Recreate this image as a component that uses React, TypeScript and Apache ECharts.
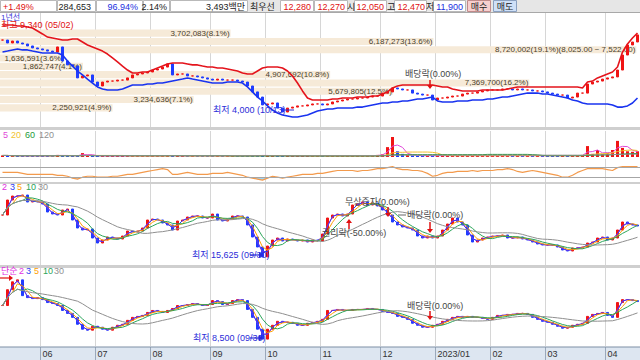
import React, { useEffect, useRef } from "react";
import * as echarts from "echarts";

// ---------- data ----------
const months = ["05", "06", "07", "08", "09", "10", "11", "12", "2023/01", "02", "03", "04"];
const monthCounts = [8, 11, 11, 12, 11, 11, 12, 11, 11, 11, 12, 7];

const p1Close = [
  8370, 8190, 8310, 8190, 8130, 8010, 7890, 7830, 7770, 7700,
  7640, 7950, 7100, 6860, 6790, 6070, 6190, 6250, 5820, 5580,
  5820, 5880, 5880, 5940, 5940, 6070, 6250, 6310, 6370, 6430,
  6550, 6610, 6730, 6920, 6250, 6310, 6310, 6190, 6190, 6130,
  6070, 6000, 5940, 6000, 5940, 5940, 5940, 5880, 5820, 5580,
  5220, 4910, 4430, 4490, 4550, 4240, 4000, 4240, 4300, 4370,
  4370, 4430, 4490, 4490, 4430, 4490, 4610, 4670, 4730, 4790,
  4790, 4850, 4850, 4910, 4970, 4970, 5150, 5220, 5460, 5400,
  5340, 5340, 5150, 5090, 5030, 5030, 4730, 4850, 4850, 4910,
  4970, 4970, 5090, 5150, 5150, 5220, 5280, 5340, 5340, 5340,
  5400, 5400, 5340, 5400, 5340, 5340, 5280, 5280, 5220, 5150,
  5090, 5030, 5030, 4850, 4910, 5150, 5150, 5700, 5820, 5880,
  6000, 6070, 6130, 6550, 7460, 8070, 8250, 8680,
];
const p1Upper = [
  9280, 9280, 9280, 9220, 9220, 9160, 9100, 8920, 8740, 8550,
  8490, 8430, 8370, 8370, 8430, 8430, 8250, 8070, 7950, 7830,
  7700, 7520, 7280, 7040, 6790, 6550, 6370, 6370, 6430, 6430,
  6550, 6670, 6790, 6920, 6980, 6980, 6980, 6920, 6860, 6860,
  6790, 6730, 6730, 6670, 6670, 6610, 6550, 6490, 6370, 6310,
  6310, 6490, 6670, 6730, 6730, 6730, 6670, 6490, 6190, 5760,
  5280, 4850, 4730, 4730, 4730, 4730, 4790, 4790, 4850, 4850,
  4850, 4910, 4910, 4910, 4970, 4970, 5090, 5220, 5460, 5580,
  5640, 5640, 5640, 5640, 5640, 5640, 5640, 5580, 5520, 5520,
  5400, 5340, 5280, 5280, 5280, 5280, 5340, 5340, 5340, 5340,
  5340, 5400, 5460, 5520, 5520, 5520, 5520, 5520, 5520, 5520,
  5520, 5520, 5520, 5520, 5520, 5520, 5460, 5820, 5880, 6070,
  6190, 6310, 6430, 6730, 7640, 8130, 8490, 8800,
];
const p1Lower = [
  7640, 7700, 7770, 7830, 7770, 7770, 7700, 7640, 7580, 7580,
  7580, 7580, 7460, 7100, 6790, 6490, 6250, 6000, 5760, 5520,
  5400, 5340, 5340, 5340, 5400, 5520, 5640, 5640, 5640, 5700,
  5700, 5760, 5760, 5820, 5880, 5940, 6000, 6070, 6000, 5940,
  5880, 5820, 5760, 5760, 5760, 5820, 5820, 5820, 5760, 5520,
  5220, 4910, 4670, 4370, 4120, 3940, 3820, 3760, 3700, 3700,
  3760, 3820, 3940, 4060, 4120, 4180, 4180, 4240, 4240, 4240,
  4240, 4300, 4300, 4370, 4430, 4490, 4550, 4550, 4610, 4610,
  4670, 4670, 4730, 4790, 4790, 4850, 4910, 4670, 4610, 4610,
  4610, 4670, 4670, 4670, 4730, 4730, 4730, 4790, 4790, 4850,
  4910, 4910, 4970, 5030, 5090, 5150, 5150, 5150, 5090, 5090,
  5030, 4970, 4910, 4850, 4730, 4670, 4550, 4490, 4490, 4490,
  4490, 4490, 4430, 4300, 4300, 4370, 4550, 4850,
];

const profileVolume = [3702083, 6187273, 8720002, 1636591, 1862747, 4907692, 7369700, 5679805, 3234636, 2250921];
const profilePct = [8.1, 13.6, 19.1, 3.6, 4.1, 10.8, 16.2, 12.5, 7.1, 4.9];
const pocRange = ["8,025.00", "7,522.00"];

const volume = [
  6, 5, 4, 5, 4, 4, 5, 4, 4, 5,
  4, 8, 5, 4, 5, 6, 15, 6, 5, 4,
  4, 4, 4, 4, 4, 4, 4, 5, 4, 4,
  4, 4, 5, 6, 5, 4, 4, 4, 4, 4,
  4, 4, 4, 4, 4, 4, 4, 4, 4, 5,
  5, 6, 6, 5, 4, 5, 5, 4, 4, 4,
  4, 4, 4, 4, 4, 4, 4, 4, 4, 4,
  4, 4, 4, 4, 5, 8, 10, 38, 77, 22,
  12, 8, 6, 5, 5, 5, 5, 5, 5, 5,
  5, 5, 5, 5, 5, 5, 5, 5, 5, 5,
  5, 5, 5, 5, 5, 5, 5, 5, 5, 5,
  5, 5, 5, 5, 5, 6, 8, 42, 12, 27,
  10, 15, 27, 62, 35, 22, 20, 22,
];

const osc = [
  50, 50, 50, 50, 46, 42, 42, 42, 42, 42,
  42, 38, 38, 34, 26, 22, 30, 34, 34, 30,
  30, 30, 34, 34, 38, 42, 42, 46, 50, 54,
  58, 62, 66, 62, 42, 42, 46, 50, 46, 42,
  42, 42, 46, 46, 46, 50, 46, 42, 38, 30,
  26, 22, 18, 26, 34, 30, 26, 30, 34, 38,
  42, 42, 42, 46, 46, 50, 54, 58, 58, 58,
  58, 54, 58, 58, 62, 66, 66, 70, 74, 66,
  62, 62, 58, 58, 54, 46, 34, 38, 46, 50,
  50, 54, 54, 54, 58, 54, 58, 58, 58, 62,
  62, 66, 62, 54, 50, 54, 58, 54, 50, 46,
  42, 38, 30, 30, 38, 50, 58, 66, 66, 66,
  66, 62, 58, 70, 74, 74, 74, 74,
];

const p2Close = [
  24000, 27000, 27800, 27800, 28000, 26600, 26800, 26600, 26200, 24600,
  24200, 24000, 25000, 25200, 23000, 21400, 21000, 21200, 19400, 18400,
  19000, 19600, 19400, 19200, 19800, 20800, 20600, 20800, 21400, 23000,
  23200, 23000, 22400, 22000, 21000, 22800, 23000, 23600, 23800, 23800,
  23400, 23400, 24200, 23000, 22800, 23200, 23800, 23800, 23600, 22000,
  19600, 17600, 15625, 17800, 19000, 19400, 18800, 19200, 19000, 18800,
  19000, 18600, 19000, 18800, 20200, 23400, 24000, 24200, 23800, 24200,
  26000, 26200, 26600, 26000, 26400, 25800, 25000, 24000, 22600, 22000,
  21600, 21400, 21000, 19800, 19400, 19800, 19400, 19800, 21000, 22200,
  23400, 22600, 22000, 20000, 18600, 19000, 19400, 19600, 19800, 19800,
  20000, 19400, 19400, 19600, 19200, 19000, 18600, 18200, 18000, 18000,
  18000, 17600, 17000, 16800, 17400, 17400, 17600, 18400, 18600, 19400,
  19600, 19000, 19400, 21000, 22600, 22200, 22000, 21800,
];

const p3Close = [
  11900, 13500, 14300, 14500, 12900, 12700, 12600, 12700, 12500, 12200,
  12100, 11900, 11400, 11100, 10700, 10000, 9500, 9400, 9800, 9700,
  9500, 9400, 9700, 9900, 10000, 10400, 10700, 10800, 10900, 11200,
  11400, 11300, 11200, 11400, 11600, 11900, 11900, 12000, 12100, 12000,
  11900, 12000, 12400, 12300, 12000, 12100, 12400, 12500, 12400, 11500,
  10700, 9500, 8500, 9500, 9900, 10300, 10200, 10200, 10100, 9900,
  9900, 10100, 10200, 10300, 10500, 11400, 11400, 11500, 11400, 11400,
  11500, 11500, 11500, 11600, 11500, 11500, 11300, 11200, 11100, 10800,
  10700, 10500, 10100, 9900, 9700, 9700, 9900, 10000, 10300, 10500,
  10700, 10800, 10700, 10800, 10700, 10700, 10600, 10500, 10700, 10900,
  10900, 11000, 11000, 11100, 11100, 11000, 10700, 10500, 10300, 10200,
  10000, 9800, 9600, 9700, 9900, 10000, 10100, 10800, 11000, 11100,
  11200, 10900, 10700, 12200, 12500, 12500, 12400, 12300,
];

const maLabels = ["2", "3", "5", "10", "30"];
const maWindows = [2, 2, 3, 5, 15];
const maColors = ["#e22ee2", "#2f3cf0", "#ff9f00", "#2ca55a", "#8f8f8f"];
const volMaLabels = ["5", "20", "60", "120"];
const volMaWindows = [3, 10, 30, 60];
const volMaColors = ["#e04ad8", "#f2c230", "#1e9a3a", "#8f8f8f"];

const headerCells = [
  { text: "+1.49%", color: "#e01010", x: 3, align: "left" },
  { text: "284,653", color: "#222", x: 91, align: "right" },
  { text: "96.94%", color: "#1a30e0", x: 138, align: "right" },
  { text: "2.14%", color: "#222", x: 167, align: "right" },
  { text: "3,493백만", color: "#222", x: 245, align: "right" },
  { text: "최우선", color: "#222", x: 250, align: "left" },
  { text: "12,280", color: "#e01010", x: 311, align: "right" },
  { text: "12,270", color: "#e01010", x: 345, align: "right" },
  { text: "시", color: "#222", x: 347, align: "left" },
  { text: "12,050", color: "#e01010", x: 384, align: "right" },
  { text: "고", color: "#222", x: 387, align: "left" },
  { text: "12,470", color: "#e01010", x: 425, align: "right" },
  { text: "저", color: "#222", x: 426, align: "left" },
  { text: "11,900", color: "#1a30e0", x: 463, align: "right" },
];

// ---------- helpers ----------
const FONT = "Liberation Sans, Noto Sans CJK KR, sans-serif";
const UP = "#f01414";
const DOWN = "#1f3cff";

function ohlc(c: number[]) {
  return c.map((v, i) => {
    const o = i === 0 ? v : c[i - 1];
    return [o, v, Math.min(o, v), Math.max(o, v)];
  });
}
function ma(arr: number[], n: number) {
  return arr.map((_, i) => {
    const s = Math.max(0, i - n + 1);
    let sum = 0;
    for (let k = s; k <= i; k++) sum += arr[k];
    return Math.round(sum / (i - s + 1));
  });
}

export default function App() {
  const ref = useRef<HTMLDivElement>(null);
  useEffect(() => {
    document.body.style.margin = "0";
    const chart = echarts.init(ref.current!, null, { renderer: "svg" });

    const cats: string[] = [];
    const monthStart = new Set<number>();
    const monthLabel: Record<number, string> = {};
    months.forEach((m, mi) => {
      if (mi > 0) monthStart.add(cats.length);
      monthLabel[cats.length] = m;
      for (let k = 0; k < monthCounts[mi]; k++) cats.push(`${m}-${k + 1}`);
    });

    const catAxis = (gridIndex: number, extra: any = {}) => ({
      type: "category",
      gridIndex,
      data: cats,
      boundaryGap: true,
      axisLine: { show: false },
      axisTick: { show: false },
      axisLabel: { show: false },
      splitLine: {
        show: true,
        interval: (i: number) => monthStart.has(i),
        lineStyle: { color: "#d6d6d6", width: 1 },
      },
      ...extra,
    });
    const valAxis = (gridIndex: number, min: number, max: number, extra: any = {}) => ({
      type: "value",
      gridIndex,
      min,
      max,
      axisLine: { show: false },
      axisTick: { show: false },
      axisLabel: { show: false },
      splitLine: { show: false },
      ...extra,
    });

    const candle = (data: number[], idx: number) => ({
      type: "candlestick",
      xAxisIndex: idx,
      yAxisIndex: idx,
      data: ohlc(data),
      barWidth: 2,
      itemStyle: { color: UP, color0: DOWN, borderColor: UP, borderColor0: DOWN, borderWidth: 1 },
      z: 3,
    });
    const lineS = (data: number[], idx: number, color: string, width = 1, z = 4) => ({
      type: "line",
      xAxisIndex: idx,
      yAxisIndex: idx,
      data,
      showSymbol: false,
      symbol: "none",
      lineStyle: { color, width },
      z,
    });
    const maSeries = (data: number[], idx: number) =>
      maWindows.map((w, k) => lineS(ma(data, w), idx, maColors[k], 1, 4));

    const volDir = p1Close.map((v, i) => (i === 0 || v >= p1Close[i - 1] ? UP : DOWN));
    const oscBase = osc.map((v) => Math.min(v, 30));
    const oscGap = oscBase.map((v) => 30 - v);

    // ---------- graphic overlays ----------
    const txt = (x: number, y: number, text: string, fill: string, size = 9, align = "left") => ({
      type: "text",
      x,
      y,
      z: 100,
      style: { text, fill, font: `${size}px ${FONT}`, align, verticalAlign: "middle" },
    });
    const arrowV = (x: number, y1: number, y2: number, color: string) => {
      const dir = y2 > y1 ? 1 : -1;
      return [
        { type: "line", z: 100, shape: { x1: x, y1, x2: x, y2: y2 - dir * 3 }, style: { stroke: color, lineWidth: 1.5 } },
        {
          type: "polygon",
          z: 100,
          shape: { points: [[x - 3, y2 - dir * 4], [x + 3, y2 - dir * 4], [x, y2]] },
          style: { fill: color },
        },
      ];
    };
    const arrowH = (x1: number, x2: number, y: number, color: string) => [
      { type: "line", z: 100, shape: { x1, y1: y, x2: x2 - 3, y2: y }, style: { stroke: color, lineWidth: 1.2 } },
      { type: "polygon", z: 100, shape: { points: [[x2 - 4, y - 3], [x2 - 4, y + 3], [x2, y]] }, style: { fill: color } },
    ];
    const divider = (y: number, h: number) => ({
      type: "rect",
      z: 50,
      shape: { x: 0, y, width: 640, height: h },
      style: { fill: "#cfcfcf" },
    });

    const headerG: any[] = [
      { type: "rect", z: 90, shape: { x: 0, y: 0, width: 640, height: 12 }, style: { fill: "#e6e6e6" } },
      ...[
        [0, 56], [57, 38], [96, 46], [143, 26], [170, 77], [280, 33], [314, 33], [354, 32], [394, 32], [433, 32],
      ].map(([x, w]) => ({
        type: "rect",
        z: 91,
        shape: { x: x + 0.5, y: 0.5, width: w, height: 11 },
        style: { fill: "#ffffff", stroke: "#b9b9b9", lineWidth: 1 },
      })),
      { type: "rect", z: 91, shape: { x: 467.5, y: 0.5, width: 23, height: 11 }, style: { fill: "#f7cfcf", stroke: "#c08a8a" } },
      { type: "rect", z: 91, shape: { x: 493.5, y: 0.5, width: 23, height: 11 }, style: { fill: "#cfe0f7", stroke: "#8aa0c0" } },
      { type: "line", z: 91, shape: { x1: 0, y1: 12.5, x2: 640, y2: 12.5 }, style: { stroke: "#a8a8a8" } },
      ...headerCells.map((c) => txt(c.x, 6.5, c.text, c.color, 9, c.align)),
      txt(479, 6.5, "매수", "#222", 9, "center"),
      txt(505, 6.5, "매도", "#222", 9, "center"),
    ];

    const graphic: any[] = [
      ...headerG,
      divider(127, 3),
      divider(182, 2),
      divider(265, 3),
      { type: "rect", z: 50, shape: { x: 0, y: 346.5, width: 640, height: 1 }, style: { fill: "#7f8fa6" } },
      // panel 1 labels
      txt(1, 25, "최고 9,340 (05/02)", "#e01010", 9),
      txt(1, 17, "1년선", "#3a3ad8", 8),
      txt(213, 110, "최저 4,000 (10/13)", "#2b2bd8", 9),
      { type: "line", z: 100, shape: { x1: 284, y1: 110, x2: 294, y2: 110 }, style: { stroke: "#2b2bd8", lineWidth: 1 } },
      txt(405, 74, "배당락(0.00%)", "#444", 9),
      ...arrowV(430, 80, 89, "#e01010"),
      // volume legend
      ...volMaLabels.map((l, k) => txt([3, 11, 25, 39][k], 135, l, volMaColors[k], 9)),
      // panel 2 labels
      ...maLabels.map((l, k) => txt([2, 10, 17, 26, 38][k], 187, l, maColors[k], 9)),
      txt(192, 255, "최저 15,625 (09/30)", "#2b2bd8", 9),
      ...arrowH(250, 263, 255, "#2b2bd8"),
      txt(345, 202, "무상증자(0.00%)", "#444", 9),
      ...arrowV(388, 207, 217, "#e01010"),
      txt(322, 233, "권리락(-50.00%)", "#444", 9),
      ...arrowV(349, 229, 219, "#e01010"),
      { type: "line", z: 100, shape: { x1: 398, y1: 215, x2: 406, y2: 215 }, style: { stroke: "#666", lineWidth: 1 } },
      txt(407, 215, "배당락(0.00%)", "#444", 9),
      ...arrowV(430, 222, 233, "#e01010"),
      // panel 3 labels
      txt(1, 271, "단순", "#e22ee2", 9),
      ...maLabels.map((l, k) => txt([19, 26, 34, 43, 54][k], 271, l, maColors[k], 9)),
      ...arrowH(0, 13, 278, "#e01010"),
      txt(407, 306, "배당락(0.00%)", "#444", 9),
      ...arrowV(430, 311, 320, "#e01010"),
      txt(193, 338, "최저 8,500 (09/30)", "#2b2bd8", 9),
      ...arrowH(250, 263, 338, "#2b2bd8"),
    ];

    const option: any = {
      animation: false,
      backgroundColor: "#ffffff",
      textStyle: { fontFamily: FONT },
      grid: [
        { left: 0, right: 0, top: 13, height: 114 }, // 0 price 1
        { left: 0, right: 0, top: 29, height: 83 }, // 1 volume profile
        { left: 0, right: 0, top: 131, height: 26 }, // 2 volume
        { left: 0, right: 0, top: 159, height: 23 }, // 3 oscillator
        { left: 0, right: 0, top: 184, height: 81 }, // 4 price 2
        { left: 0, right: 0, top: 268, height: 78 }, // 5 price 3
        { left: 0, right: 0, top: 347, height: 13, show: true, backgroundColor: "#dde6f1", borderWidth: 0 }, // 6 axis strip
      ],
      xAxis: [
        catAxis(0),
        { type: "value", gridIndex: 1, min: 1.85, max: 19.2, show: false },
        catAxis(2),
        catAxis(3),
        catAxis(4),
        catAxis(5),
        catAxis(6, {
          splitLine: {
            show: true,
            interval: (i: number) => monthStart.has(i),
            lineStyle: { color: "#9aa8ba", width: 1 },
          },
          axisLabel: {
            show: true,
            inside: true,
            interval: (i: number) => monthStart.has(i),
            formatter: (_v: string, i: number) => monthLabel[i] || "",
            align: "left",
            verticalAlign: "middle",
            margin: 6,
            color: "#333",
            fontSize: 9,
            fontFamily: FONT,
          },
        }),
      ],
      yAxis: [
        valAxis(0, 3091, 10011),
        {
          type: "category",
          gridIndex: 1,
          inverse: true,
          data: profileVolume.map((_, i) => `r${i}`),
          show: false,
        },
        valAxis(2, 0, 100),
        valAxis(3, 10, 106),
        valAxis(4, 14000, 30200),
        valAxis(5, 7800, 15700),
        valAxis(6, 0, 1),
      ],
      series: [
        {
          type: "bar",
          xAxisIndex: 1,
          yAxisIndex: 1,
          data: profilePct,
          barCategoryGap: "14%",
          itemStyle: { color: "#f6ead8" },
          z: 1,
          label: {
            show: true,
            position: "insideRight",
            distance: 1,
            color: "#4a3f2c",
            fontSize: 8,
            lineHeight: 8,
            fontFamily: FONT,
            formatter: (p: any) =>
              `${profileVolume[p.dataIndex].toLocaleString("en-US")}(${profilePct[p.dataIndex].toFixed(1)}%)` +
              (profilePct[p.dataIndex] === Math.max(...profilePct) ? `(${pocRange[0]} ~ ${pocRange[1]})` : ""),
          },
        },
        candle(p1Close, 0),
        lineS(p1Upper, 0, "#e4141c", 1.6, 5),
        lineS(p1Lower, 0, "#1a34f0", 1.6, 5),
        {
          type: "bar",
          xAxisIndex: 2,
          yAxisIndex: 2,
          data: volume.map((v, i) => ({ value: v, itemStyle: { color: volDir[i] } })),
          barWidth: 3,
          z: 3,
        },
        ...volMaWindows.map((w, k) => lineS(ma(volume, w), 2, volMaColors[k], 1, 4)),
        {
          type: "line",
          xAxisIndex: 3,
          yAxisIndex: 3,
          data: oscBase,
          stack: "fill",
          showSymbol: false,
          symbol: "none",
          lineStyle: { width: 0, opacity: 0 },
          z: 2,
        },
        {
          type: "line",
          xAxisIndex: 3,
          yAxisIndex: 3,
          data: oscGap,
          stack: "fill",
          showSymbol: false,
          symbol: "none",
          lineStyle: { width: 0, opacity: 0 },
          areaStyle: { color: "#9fd4f2", opacity: 1 },
          z: 2,
        },
        {
          ...lineS(osc, 3, "#f39a4c", 1.2, 4),
          markLine: {
            silent: true,
            symbol: "none",
            label: { show: false },
            lineStyle: { color: "#a6a6a6", type: "solid", width: 1 },
            data: [{ yAxis: 30 }, { yAxis: 70 }],
          },
        },
        candle(p2Close, 4),
        ...maSeries(p2Close, 4),
        candle(p3Close, 5),
        ...maSeries(p3Close, 5),
      ],
      graphic,
    };
    chart.setOption(option);
    return () => chart.dispose();
  }, []);
  return <div ref={ref} style={{ width: 640, height: 360, position: "absolute", left: 0, top: 0 }} />;
}
